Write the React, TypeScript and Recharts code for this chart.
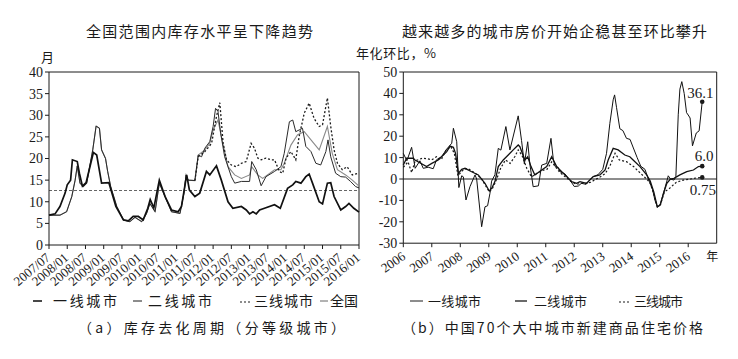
import React from 'react';
import { LineChart, Line, XAxis, YAxis, ReferenceLine } from 'recharts';

// ---------- Left chart: inventory cycle (months), x = months since 2007/07 ----------
const leftTicks = [0, 6, 12, 18, 24, 30, 36, 42, 48, 54, 60, 66, 72, 78, 84, 90, 96, 102];
const leftTickLabels = ['2007/07', '2008/01', '2008/07', '2009/01', '2009/07', '2010/01', '2010/07', '2011/01', '2011/07', '2012/01', '2012/07', '2013/01', '2013/07', '2014/01', '2014/07', '2015/01', '2015/07', '2016/01'];
const leftYTicks = [0, 5, 10, 15, 20, 25, 30, 35, 40];
const inventoryAverage = 12.6;

const invTier1: [number, number][] = [[0,6.9],[2,7.2],[3.6,8.9],[5.3,12],[6,13.9],[7.1,15],[7.7,19.7],[9.3,19.3],[10,16.6],[11,13.6],[12.2,14.4],[14.6,21.4],[15.7,20.8],[17.3,14.3],[19.7,14.4],[22,8.9],[24.5,5.8],[26.1,5.6],[27.7,6.6],[29.4,6.6],[31,5.8],[32.5,8.5],[33.3,10.5],[34.5,8.6],[36.3,15],[38.2,11.2],[40.3,8.1],[42.5,7.7],[43.6,8.9],[45.3,16.2],[46.2,12.7],[48,11.2],[49.6,12],[51.8,17],[52.9,16.2],[55.1,18.3],[56.7,15],[58.9,10],[60.5,8.5],[63.3,8.9],[64.9,8.1],[66,7.2],[67.1,7.7],[68.2,7.2],[69.3,8.1],[70.9,8.5],[74.2,9.3],[76.1,8.5],[78.5,13.1],[80.2,13.9],[81.2,14.7],[82.9,14.3],[84.5,15.8],[85.6,16.4],[86.7,14.3],[88.9,10],[90,9.5],[91.6,14.3],[92.7,14.4],[93.8,11.2],[96,8.1],[97.6,8.9],[98.7,9.6],[100.3,8.5],[102,7.6]];

const invEarlyThin: [number, number][] = [[0,6.9],[3.6,6.9],[5.8,7.7],[7.5,11.2],[8.6,15],[9.3,18.3],[10.2,14.3],[11.3,13.5],[12.4,14.3],[14.4,22],[15.5,27.5],[16.6,27],[17.3,22],[18.6,20],[19.3,17],[20.3,13.5],[22.3,8.9],[24.5,5.8],[26.6,5.4],[28.3,6.4],[30.5,5.4],[32.1,7.3],[33.2,9.6],[34.9,7.7],[36.3,14.3],[38.2,11.2],[40.3,7.7],[43.1,7.3],[44.4,12],[45.1,16.2],[45.8,15],[48,14.9]];

const invTier2Late: [number, number][] = [[49.1,20.8],[50.2,20.4],[51.3,22.4],[52.9,23.9],[54,27.4],[54.8,31.6],[55.6,30.9],[56.5,25.8],[57.8,20.4],[58.9,18.1],[60,15.8],[61.1,14.3],[63.3,14.7],[66,14.7],[66.7,19.3],[68.2,17.4],[69.8,13.7],[71.4,15.8],[74.2,17],[76.3,18.1],[77.4,21.2],[79.1,28.5],[80.2,28.9],[81.2,26.2],[82.3,26.6],[83.4,27],[84.5,22.8],[86.2,21.6],[87.8,18.9],[89.4,18.5],[91.1,21.6],[91.8,24.3],[92.7,20.4],[94.3,16.6],[96,15.8],[97.6,15.7],[99.2,14.7],[100.9,13.5],[102,13.2]];

const invNationLate: [number, number][] = [[49.1,20.8],[51.3,22],[52.9,23.5],[54,26.6],[55.6,28.9],[56.7,25.1],[58.9,18.1],[61.1,16.2],[63.3,15.4],[66,16.2],[66.7,18.1],[68.7,16.2],[70.3,15.4],[74.2,17.4],[76.3,17.4],[77.4,18.9],[79.6,23.1],[81.8,25.5],[84,26.2],[86.2,24.3],[88.9,22],[91.6,27.4],[93.2,21.2],[94.9,17.4],[97.6,16.2],[99.8,15],[102,13.6]];

const invTier3: [number, number][] = [[48,14.9],[49.1,20.4],[51.3,21.6],[53.5,23.5],[55.1,29.7],[56.2,32.9],[57.3,23.5],[58.4,19.7],[60,18.5],[61.6,18.1],[63.3,18.9],[64.9,19.3],[66.5,23.5],[67.6,22.4],[68.7,20.1],[69.8,19.7],[71.4,20.1],[73.1,19.7],[74.2,19.7],[75.8,17],[76.9,16.6],[78,20.1],[79.6,21.6],[81.2,19.7],[82.3,25.1],[84,30.5],[85.6,32.8],[87.2,29.3],[88.9,27.4],[90,27.8],[91.6,34],[92.7,27.4],[93.8,22],[94.9,18.9],[96.5,17.4],[98.1,18.1],[99.8,16.2],[102,16.6]];

// ---------- Right chart: annualised m/m price change (%), x = months since 2006/01 ----------
const rightTicks = [0, 12, 24, 36, 48, 60, 72, 84, 96, 108, 120];
const rightTickLabels = ['2006', '2007', '2008', '2009', '2010', '2011', '2012', '2013', '2014', '2015', '2016'];
const rightYTicks = [-30, -20, -10, 0, 10, 20, 30, 40, 50];

const priceTier1: [number, number][] = [[0,12],[1.5,8.5],[3.5,14.8],[5,5],[7,8.5],[8.4,5],[10.5,5.5],[12.6,4.8],[14,9],[16.1,10.4],[18.3,14],[20.4,16.7],[21.1,23.7],[22.5,17.4],[23.4,-4],[24.6,1.5],[25.3,1],[26.4,-9.8],[28.1,-3.5],[30.2,1.9],[30.9,0],[33,-22.3],[34.4,-13],[35.5,-12.5],[36.5,-6.7],[37.2,-1],[38.6,2],[40,14.3],[41.1,13.5],[43.2,24.5],[44.9,13.6],[48.4,29.5],[49.8,18],[51,7],[52.4,17.4],[53.3,7],[54.7,-3.6],[56.9,-3.2],[58.3,6.5],[60.4,7.3],[62.2,19],[63.2,9],[64,5.8],[65.2,5.5],[66,3.4],[68,2.5],[70.2,-0.5],[72,-3.5],[73.7,-3.3],[75,-2],[77,-2.5],[78.5,-0.5],[80,1.1],[82,2],[84,4.5],[85.6,12],[87,26],[88.4,37],[89,39.3],[89.8,33.5],[91.2,23.5],[92.5,22.6],[94,19],[95.5,18.5],[96.9,14.5],[98.5,10],[100,6],[101.8,4.5],[103.2,0],[105,-5],[106,-10],[107,-13],[108,-12.5],[109.5,-7],[111,-1],[111.6,1.5],[112.5,0],[114,-0.5],[114.8,1],[115.8,30],[116.5,42],[117.3,45.5],[118.3,40],[119.3,31],[120,29.9],[120.8,28.5],[121.8,15.5],[123.4,21.5],[124.6,22.5],[125.9,36.1]];

const priceTier2: [number, number][] = [[0,6.5],[1.4,9.7],[4.2,9.7],[4.9,8.9],[9.8,5.8],[12,7.3],[14.7,8.9],[16.1,10.4],[18.3,12.8],[19.7,15.4],[21.1,14.8],[22,12],[23.2,2.6],[24.6,4.5],[26,5],[28.8,3.4],[31.6,1.9],[34.4,-2],[36.2,-5.6],[37.2,-4.4],[38.6,-1.2],[40,5.8],[42.1,8.9],[44.2,11.2],[46.3,13.6],[48.4,15.9],[49.1,15.1],[51.2,8.9],[52.4,10.4],[53.8,5.8],[55.4,1.9],[58.3,4.2],[60.4,5.8],[62.5,10.4],[64.6,5.8],[66,4.2],[68.8,1.1],[70.9,-1.2],[73,-2],[74.4,-1.2],[77.2,-2],[80,1.1],[82.8,1.9],[85,4.2],[86.3,8.9],[88.4,14.3],[90.5,13.6],[93.3,11.2],[95.4,10.4],[96.8,8.9],[99.7,5.8],[102.5,1.9],[104,-1],[105.5,-6],[107,-13],[108.3,-12],[109.5,-7],[111,-2],[112.5,0],[114,0.3],[116.5,1.9],[119.4,3.4],[122.2,4.2],[124.3,5.8],[125.9,6.0]];

const priceTier3: [number, number][] = [[0,5.5],[2,8],[3.5,3],[5,8.5],[8,9.7],[10,9.5],[12,9],[14,10.4],[16,9],[18,13.6],[20,15.1],[21.5,12],[23,1.5],[25,4],[27,5],[30,3],[33,0],[36.2,-6],[37.5,-4.5],[39,-1],[41,5],[43,8.9],[45,7.3],[47,10.5],[48.4,13.6],[50,11],[52,5],[54,1],[56,2.5],[58.5,4],[60.5,4.5],[62.5,8],[64.6,5],[66,3],[68.8,0.5],[71,-1.5],[73,-2.5],[75,-2],[77.2,-2],[79,-1.5],[80.5,-0.5],[83,1],[85,2.5],[87,6],[89.2,12],[91,8.9],[94,8.1],[97,5.8],[100,2.6],[102.5,0],[104,-2],[105.5,-7],[107,-13],[108.3,-12],[110,-6],[112,-4.5],[115,-1.5],[118,-0.5],[121,0],[123.5,0.5],[125.9,0.75]];

const endLabels = ['36.1', '6.0', '0.75'];

const toRows = (pairs: [number, number][]) => pairs.map(([t, v]) => ({ t, v }));

const SERIF = '"Liberation Serif", "Times New Roman", serif';
const CJK = '"Noto Sans CJK SC", "Noto Sans", sans-serif';
const INK = '#1a1a1a';

const LeftTick = (props: any) => {
  const { x, y, payload } = props;
  const i = leftTicks.indexOf(payload.value);
  const ax = x + 2;
  const ay = y + 8;
  return (
    <text x={ax} y={ay} transform={`rotate(-40 ${ax} ${ay})`} textAnchor="end" fontFamily={SERIF} fontSize={13} fill={INK}>
      {leftTickLabels[i]}
    </text>
  );
};

const RightTick = (props: any) => {
  const { x, y, payload } = props;
  const i = rightTicks.indexOf(payload.value);
  const ax = x + 3;
  const ay = y + 9;
  return (
    <g>
      <text x={ax} y={ay} transform={`rotate(-35 ${ax} ${ay})`} textAnchor="end" fontFamily={SERIF} fontSize={13} fill={INK}>
        {rightTickLabels[i]}
      </text>
      {i === rightTickLabels.length - 1 ? (
        <text x={x + 18} y={y + 12} fontFamily={CJK} fontSize={12} fill={INK}>年</text>
      ) : null}
    </g>
  );
};

const makeEndDot = (len: number, label: string, dx: number, dy: number) => (props: any) => {
  const { cx, cy, index } = props;
  if (index !== len - 1) return <g key={`d${index}`} />;
  return (
    <g key={`d${index}`}>
      <circle cx={cx} cy={cy} r={2.3} fill={INK} />
      <text x={cx + dx} y={cy + dy} fontFamily={SERIF} fontSize={15} fill={INK}>{label}</text>
    </g>
  );
};

const LeftChart = () => (
  <LineChart width={370} height={359} margin={{ top: 72, right: 11, bottom: 74, left: 19 }}>
    <XAxis dataKey="t" type="number" domain={[0, 102]} ticks={leftTicks} interval={0} tick={<LeftTick />} tickSize={4} height={40} axisLine={{ stroke: INK }} tickLine={{ stroke: INK }} allowDuplicatedCategory={false} />
    <YAxis type="number" domain={[0, 40]} ticks={leftYTicks} interval={0} width={30} tickSize={4} tick={{ fontFamily: SERIF, fontSize: 14, fill: INK }} axisLine={{ stroke: INK }} tickLine={{ stroke: INK }} />
    <ReferenceLine y={40} stroke={INK} strokeWidth={1} />
    <ReferenceLine x={102} stroke={INK} strokeWidth={1} />
    <ReferenceLine y={inventoryAverage} stroke="#555" strokeDasharray="3 2" strokeWidth={0.9} />
    <Line data={toRows([...invEarlyThin, ...invNationLate])} dataKey="v" stroke="#8a8a8a" strokeWidth={1.1} dot={false} isAnimationActive={false} />
    <Line data={toRows([...invEarlyThin, ...invTier2Late])} dataKey="v" stroke="#2a2a2a" strokeWidth={1} dot={false} isAnimationActive={false} />
    <Line data={toRows(invTier3)} dataKey="v" stroke="#1a1a1a" strokeWidth={1.3} strokeDasharray="2 2" dot={false} isAnimationActive={false} />
    <Line data={toRows(invTier1)} dataKey="v" stroke="#111" strokeWidth={1.7} dot={false} isAnimationActive={false} />
  </LineChart>
);

const RightChart = () => (
  <LineChart width={368} height={359} margin={{ top: 72, right: 21.3, bottom: 75.8, left: 3.3 }}>
    <XAxis dataKey="t" type="number" domain={[0, 132]} ticks={rightTicks} interval={0} tick={<RightTick />} tickSize={4} height={40} axisLine={{ stroke: INK }} tickLine={{ stroke: INK }} allowDuplicatedCategory={false} />
    <YAxis type="number" domain={[-30, 50]} ticks={rightYTicks} interval={0} width={30} tickSize={4} tick={{ fontFamily: SERIF, fontSize: 14, fill: INK }} axisLine={{ stroke: INK }} tickLine={{ stroke: INK }} />
    <ReferenceLine y={50} stroke={INK} strokeWidth={1} />
    <ReferenceLine x={132} stroke={INK} strokeWidth={1} />
    <ReferenceLine y={0} stroke={INK} strokeWidth={1} />
    <Line data={toRows(priceTier3)} dataKey="v" stroke="#1a1a1a" strokeWidth={1.2} strokeDasharray="2 2" dot={makeEndDot(priceTier3.length, endLabels[2], -12.5, 18)} isAnimationActive={false} />
    <Line data={toRows(priceTier2)} dataKey="v" stroke="#111" strokeWidth={1.3} dot={makeEndDot(priceTier2.length, endLabels[1], -7.5, -5)} isAnimationActive={false} />
    <Line data={toRows(priceTier1)} dataKey="v" stroke="#111" strokeWidth={1} dot={makeEndDot(priceTier1.length, endLabels[0], -15, -4)} isAnimationActive={false} />
  </LineChart>
);

const Overlay = () => (
  <svg width={738} height={359} style={{ position: 'absolute', left: 0, top: 0, pointerEvents: 'none' }}>
    <text x={86} y={37} fontFamily={CJK} fontSize={15} fill={INK} textLength={227} lengthAdjust="spacing">全国范围内库存水平呈下降趋势</text>
    <text x={402} y={37} fontFamily={CJK} fontSize={15} fill={INK} textLength={305} lengthAdjust="spacing">越来越多的城市房价开始企稳甚至环比攀升</text>
    <text x={41} y={62} fontFamily={CJK} fontSize={13} fill={INK}>月</text>
    <text x={356} y={58} fontFamily={CJK} fontSize={13} fill={INK} textLength={80} lengthAdjust="spacing">年化环比，%</text>

    {/* left legend */}
    <line x1={33} y1={301} x2={42} y2={301} stroke={INK} strokeWidth={1.6} />
    <text x={53} y={306} fontFamily={CJK} fontSize={14} fill={INK} textLength={64} lengthAdjust="spacing">一线城市</text>
    <line x1={133} y1={301} x2={142} y2={301} stroke={INK} strokeWidth={1} />
    <text x={148} y={306} fontFamily={CJK} fontSize={14} fill={INK} textLength={64} lengthAdjust="spacing">二线城市</text>
    <line x1={240} y1={302} x2={251} y2={302} stroke={INK} strokeWidth={1.2} strokeDasharray="2 2" />
    <text x={254} y={306} fontFamily={CJK} fontSize={14} fill={INK} textLength={59} lengthAdjust="spacing">三线城市</text>
    <line x1={320} y1={301} x2={328} y2={301} stroke="#666" strokeWidth={1} />
    <text x={330} y={306} fontFamily={CJK} fontSize={14} fill={INK} textLength={28} lengthAdjust="spacing">全国</text>

    {/* right legend */}
    <line x1={410} y1={301} x2={423} y2={301} stroke={INK} strokeWidth={1} />
    <text x={428} y={306} fontFamily={CJK} fontSize={13} fill={INK} textLength={53} lengthAdjust="spacing">一线城市</text>
    <line x1={515} y1={301} x2={527} y2={301} stroke={INK} strokeWidth={1.3} />
    <text x={534} y={306} fontFamily={CJK} fontSize={13} fill={INK} textLength={53} lengthAdjust="spacing">二线城市</text>
    <line x1={619} y1={302} x2={631} y2={302} stroke={INK} strokeWidth={1.2} strokeDasharray="2 2" />
    <text x={634} y={306} fontFamily={CJK} fontSize={13} fill={INK} textLength={49} lengthAdjust="spacing">三线城市</text>

    {/* captions */}
    <text x={78} y={333} fontFamily={CJK} fontSize={14} fill={INK} textLength={267} lengthAdjust="spacing">（a）库存去化周期（分等级城市）</text>
    <text x={402} y={333} fontFamily={CJK} fontSize={14} fill={INK} textLength={301} lengthAdjust="spacing">（b）中国70个大中城市新建商品住宅价格</text>
  </svg>
);

export default function App() {
  return (
    <div style={{ position: 'absolute', left: 0, top: 0, width: 738, height: 359, background: '#fff', overflow: 'hidden' }}>
      <div style={{ position: 'absolute', left: 0, top: 0 }}>
        <LeftChart />
      </div>
      <div style={{ position: 'absolute', left: 370, top: 0 }}>
        <RightChart />
      </div>
      <Overlay />
    </div>
  );
}
